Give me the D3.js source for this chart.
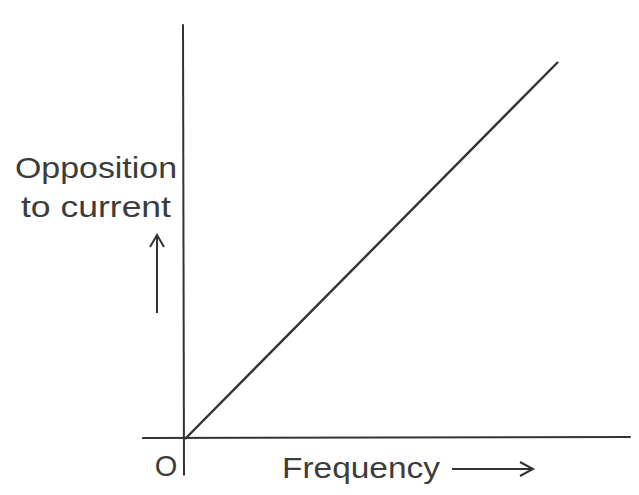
<!DOCTYPE html>
<html>
<head>
<meta charset="utf-8">
<script src="https://cdn.jsdelivr.net/npm/d3@7"></script>
<style>
  html, body { margin: 0; padding: 0; background: #fff; }
  svg { display: block; }
  text { font-family: "Liberation Sans", Arial, sans-serif; fill: #3c3c3c; }
</style>
</head>
<body>
<svg id="chart" width="639" height="495"></svg>
<script>
// Opposition to current grows linearly with frequency (inductive reactance)
const frequency = [0, 10];
const opposition = [0, 10];
const yLabelLines = ["Opposition", "to current"];
const xLabel = "Frequency";
const originLabel = "O";

const svg = d3.select("#chart");
const ink = "#333";

const x = d3.scaleLinear().domain([0, 10]).range([185, 558]);
const y = d3.scaleLinear().domain([0, 10]).range([439, 62]);

// axes: plain lines crossing at the origin, overshooting a little
svg.append("line")
  .attr("x1", x(-1.15)).attr("x2", x(11.95))
  .attr("y1", y(0) - 1).attr("y2", y(0) - 2)
  .attr("stroke", ink).attr("stroke-width", 2);

svg.append("line")
  .attr("x1", x(0) - 2).attr("x2", x(0) - 1)
  .attr("y1", y(11.0)).attr("y2", y(-0.97))
  .attr("stroke", ink).attr("stroke-width", 2);

// the straight-line relationship
const pts = frequency.map((f, i) => [x(f), y(opposition[i])]);
svg.append("path")
  .attr("d", d3.line()(pts))
  .attr("fill", "none")
  .attr("stroke", ink)
  .attr("stroke-width", 2.4);

// y label, two centred lines
const yLabelWidths = [162, 150];
yLabelLines.forEach((t, i) => {
  svg.append("text")
    .attr("x", 96 - yLabelWidths[i] / 2)
    .attr("y", 178 + i * 39)
    .attr("font-size", 30)
    .attr("textLength", yLabelWidths[i])
    .attr("lengthAdjust", "spacingAndGlyphs")
    .text(t);
});

// upward arrow under the y label
const arrowUp = d3.path();
arrowUp.moveTo(157, 313); arrowUp.lineTo(157, 236);
arrowUp.moveTo(150, 247); arrowUp.lineTo(157, 235); arrowUp.lineTo(164, 247);
svg.append("path").attr("d", arrowUp.toString())
  .attr("fill", "none").attr("stroke", ink).attr("stroke-width", 2);

// origin label
svg.append("text")
  .attr("x", 166).attr("y", 476)
  .attr("text-anchor", "middle")
  .attr("font-size", 29)
  .text(originLabel);

// x label with rightward arrow
svg.append("text")
  .attr("x", 282).attr("y", 478)
  .attr("font-size", 30)
  .attr("textLength", 158)
  .attr("lengthAdjust", "spacingAndGlyphs")
  .text(xLabel);

const arrowRight = d3.path();
arrowRight.moveTo(452, 469); arrowRight.lineTo(532, 469);
arrowRight.moveTo(520, 462); arrowRight.lineTo(533, 469); arrowRight.lineTo(520, 476);
svg.append("path").attr("d", arrowRight.toString())
  .attr("fill", "none").attr("stroke", ink).attr("stroke-width", 2);
</script>
</body>
</html>
